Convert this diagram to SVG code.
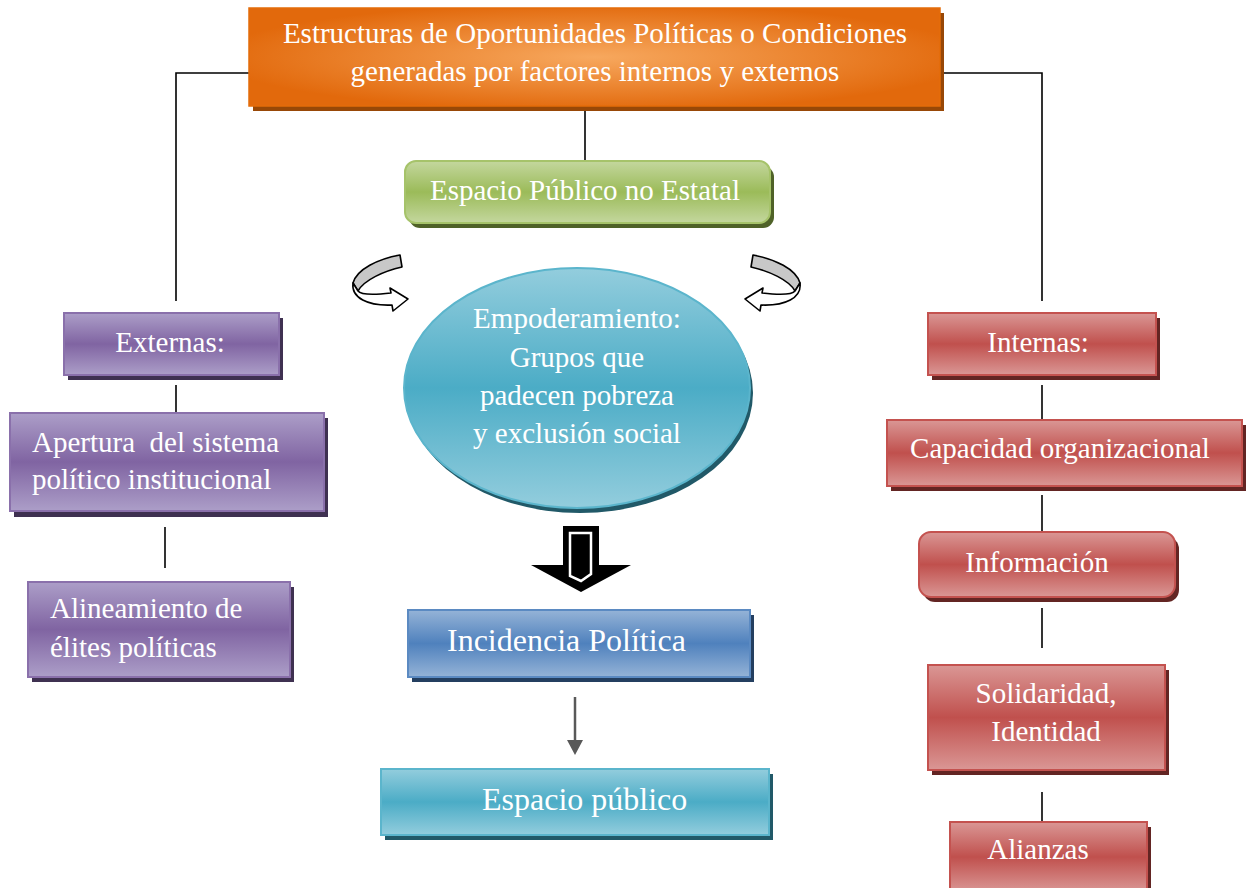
<svg xmlns="http://www.w3.org/2000/svg" width="1247" height="888" viewBox="0 0 1247 888">
<defs>
<radialGradient id="gOrange" cx="50%" cy="50%" r="55%">
<stop offset="0" stop-color="#f7a85e"/>
<stop offset="1" stop-color="#e2690c"/>
</radialGradient>
<linearGradient id="gPurple" x1="0" y1="0" x2="0" y2="1">
<stop offset="0" stop-color="#ac9ec8"/>
<stop offset="0.5" stop-color="#8064a2"/>
<stop offset="1" stop-color="#ac9ec8"/>
</linearGradient>
<linearGradient id="gRed" x1="0" y1="0" x2="0" y2="1">
<stop offset="0" stop-color="#da9795"/>
<stop offset="0.5" stop-color="#c0504d"/>
<stop offset="1" stop-color="#da9795"/>
</linearGradient>
<linearGradient id="gBlue" x1="0" y1="0" x2="0" y2="1">
<stop offset="0" stop-color="#95b3d7"/>
<stop offset="0.5" stop-color="#4f81bd"/>
<stop offset="1" stop-color="#95b3d7"/>
</linearGradient>
<linearGradient id="gTeal" x1="0" y1="0" x2="0" y2="1">
<stop offset="0" stop-color="#93cddd"/>
<stop offset="0.5" stop-color="#4bacc6"/>
<stop offset="1" stop-color="#93cddd"/>
</linearGradient>
<linearGradient id="gGreen" x1="0" y1="0" x2="0" y2="1">
<stop offset="0" stop-color="#c4d79e"/>
<stop offset="0.5" stop-color="#9bbb59"/>
<stop offset="1" stop-color="#c4d79e"/>
</linearGradient>
<style>
text{font-family:"Liberation Serif","Times New Roman",serif;font-size:29px;fill:#ffffff}
.c{text-anchor:middle}
.big{font-size:32px}
.line{stroke:#000;stroke-width:1.6;fill:none}
.pur{fill:url(#gPurple);stroke:#8a70ab;stroke-width:2}
.red{fill:url(#gRed);stroke:#c4524f;stroke-width:2}
.pursh{fill:#3f3151}
.redsh{fill:#632523}
.curl{stroke:#000;stroke-width:1.6;stroke-linejoin:round}
</style>
</defs>

<g id="connectors">
<path class="line" d="M249,73 H176 V301"/>
<path class="line" d="M940,73 H1042 V301"/>
<path class="line" d="M585,106 V161"/>
<path class="line" d="M176,385 V412"/>
<path class="line" d="M165,527 V568"/>
<path class="line" d="M1042,385 V421"/>
<path class="line" d="M1042,495 V532"/>
<path class="line" d="M1042,608 V648"/>
<path class="line" d="M1042,792 V822"/>
<line x1="575" y1="697" x2="575" y2="741" stroke="#595959" stroke-width="2.5"/>
<polygon points="567,740 583,740 575,755" fill="#595959"/>
<g id="curl-left">
<path class="curl" fill="#c8c8c8" d="M400,255 C378,259 357,269 353,283 L358,291 C364,280 384,271 402,267 Z"/>
<path class="curl" fill="#ffffff" d="M353,283 C351,298 368,306 392,305 L393,311 L408,299 L390,288 L391,293 C373,295 361,295 358,291 Z"/>
</g>
<g id="curl-right" transform="translate(1153,0) scale(-1,1)">
<path class="curl" fill="#c8c8c8" d="M400,255 C378,259 357,269 353,283 L358,291 C364,280 384,271 402,267 Z"/>
<path class="curl" fill="#ffffff" d="M353,283 C351,298 368,306 392,305 L393,311 L408,299 L390,288 L391,293 C373,295 361,295 358,291 Z"/>
</g>
<g id="block-arrow">
<polygon points="563,526 599,526 599,565 631,565 581,592 531,565 563,565" fill="#000"/>
<path d="M570,576 V533 H591 V574 L581,581 Z" fill="#000" stroke="#fff" stroke-width="2.5" stroke-linejoin="miter"/>
</g>
</g>

<g id="n-top">
<rect x="253" y="13" width="691" height="98" fill="#984807"/>
<rect x="249" y="8" width="691" height="98" fill="url(#gOrange)" stroke="#e46c0a" stroke-width="1.5"/>
<text class="c" x="595" y="43">Estructuras de Oportunidades Políticas o Condiciones</text>
<text class="c" x="595" y="81">generadas por factores internos y externos</text>
</g>

<g id="n-espacio-no-estatal">
<rect x="409" y="166" width="365" height="62" rx="11" fill="#4f6228"/>
<rect x="405" y="161" width="365" height="62" rx="11" fill="url(#gGreen)" stroke="#a6c36a" stroke-width="2"/>
<text class="c" x="585" y="200">Espacio Público no Estatal</text>
</g>

<g id="n-empoderamiento">
<ellipse cx="580" cy="393" rx="173" ry="120" fill="#215968"/>
<ellipse cx="577" cy="388" rx="173" ry="120" fill="url(#gTeal)" stroke="#5bb5cc" stroke-width="2"/>
<text class="c" x="577" y="328">Empoderamiento:</text>
<text class="c" x="577" y="367">Grupos que</text>
<text class="c" x="577" y="405">padecen pobreza</text>
<text class="c" x="577" y="443">y exclusión social</text>
</g>

<g id="n-incidencia">
<rect x="412" y="615" width="342" height="67" fill="#243f60"/>
<rect x="408" y="610" width="342" height="67" fill="url(#gBlue)" stroke="#5b8ac2" stroke-width="2"/>
<text class="big" x="447" y="651">Incidencia Política</text>
</g>

<g id="n-espacio-publico">
<rect x="385" y="774" width="388" height="66" fill="#215968"/>
<rect x="381" y="769" width="388" height="66" fill="url(#gTeal)" stroke="#5bb5cc" stroke-width="2"/>
<text class="big" x="482" y="810">Espacio público</text>
</g>

<g id="n-externas">
<rect class="pursh" x="68" y="318" width="215" height="62"/>
<rect class="pur" x="64" y="313" width="215" height="62"/>
<text class="c" x="170" y="352">Externas:</text>
</g>

<g id="n-apertura">
<rect class="pursh" x="14" y="418" width="314" height="99"/>
<rect class="pur" x="10" y="413" width="314" height="98"/>
<text x="32" y="452" style="white-space:pre">Apertura  del sistema</text>
<text x="32" y="489">político institucional</text>
</g>

<g id="n-alineamiento">
<rect class="pursh" x="32" y="587" width="262" height="95"/>
<rect class="pur" x="28" y="582" width="262" height="95"/>
<text x="50" y="618">Alineamiento de</text>
<text x="50" y="657">élites políticas</text>
</g>

<g id="n-internas">
<rect class="redsh" x="932" y="318" width="228" height="62"/>
<rect class="red" x="928" y="313" width="228" height="62"/>
<text class="c" x="1038" y="352">Internas:</text>
</g>

<g id="n-capacidad">
<rect class="redsh" x="891" y="425" width="355" height="66"/>
<rect class="red" x="887" y="420" width="355" height="66"/>
<text class="c" x="1060" y="458">Capacidad organizacional</text>
</g>

<g id="n-informacion">
<rect class="redsh" x="923" y="537" width="256" height="65" rx="12"/>
<rect class="red" x="919" y="532" width="256" height="65" rx="12"/>
<text class="c" x="1037" y="572">Información</text>
</g>

<g id="n-solidaridad">
<rect class="redsh" x="932" y="670" width="237" height="105"/>
<rect class="red" x="928" y="665" width="237" height="105"/>
<text class="c" x="1046" y="703">Solidaridad,</text>
<text class="c" x="1046" y="741">Identidad</text>
</g>

<g id="n-alianzas">
<rect class="redsh" x="954" y="827" width="197" height="70"/>
<rect class="red" x="950" y="822" width="197" height="70"/>
<text class="c" x="1038" y="859">Alianzas</text>
</g>
</svg>
